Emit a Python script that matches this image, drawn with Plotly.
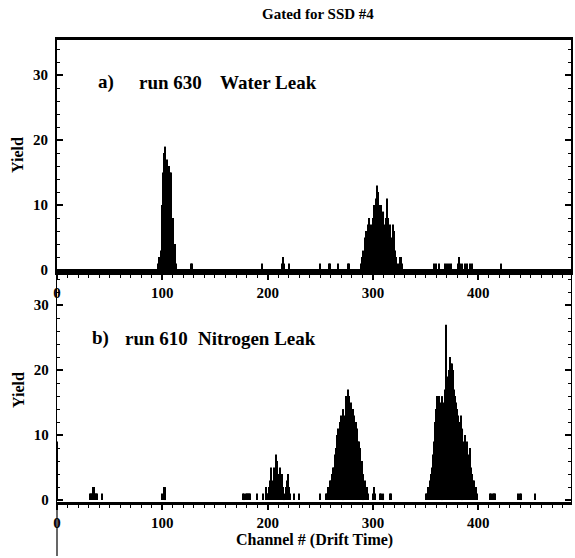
import plotly.graph_objects as go

# ---------------- data ----------------
# Panel a) run 630 Water Leak
a_peak1_first = 96
a_peak1_yield = [1, 2, 2, 3, 10, 15, 18, 19, 17, 16, 16, 15, 15, 8, 8, 4, 4, 1]
a_peak2_first = 289
a_peak2_yield = [1, 2, 3, 5, 6, 5, 7, 8, 6, 7, 5, 8, 10, 9, 11, 13, 12, 10, 9, 10,
                 8, 9, 7, 8, 11, 8, 6, 7, 5, 4, 7, 6, 3, 2, 1, 0, 1, 2, 2, 1]
a_sparse_channels = [127, 128, 195, 214, 215, 216, 220, 250, 258, 259,
                     267, 276, 277, 358, 360, 363, 368, 370, 372, 374,
                     381, 382, 383, 385, 387, 389, 392, 394, 422]
a_sparse_yield = [1, 1, 1, 1, 2, 1, 1, 1, 1, 1,
                  1, 1, 1, 1, 1, 1, 1, 1, 1, 1,
                  1, 2, 1, 1, 1, 1, 1, 1, 1]

# Panel b) run 610 Nitrogen Leak
b_peak1_first = 200
b_peak1_yield = [1, 2, 3, 5, 2, 3, 5, 4, 7, 6, 3, 4, 5, 3, 4, 2, 1, 2, 3, 4, 2, 1]
b_peak2_first = 255
b_peak2_yield = [1, 1, 2, 2, 3, 3, 4, 5, 5, 7, 8, 10, 11, 9, 12, 13, 11, 14, 13, 16,
                 15, 17, 16, 14, 15, 12, 14, 13, 10, 12, 11, 9, 9, 8, 6, 6, 4, 3, 2, 2, 1]
b_peak3_first = 350
b_peak3_yield = [1, 1, 2, 2, 3, 4, 5, 7, 9, 12, 14, 16, 15, 16, 15, 14, 16, 15, 17, 27,
                 19, 18, 20, 22, 21, 21, 20, 17, 16, 15, 14, 13, 12, 10, 13, 11, 9, 10, 8, 9,
                 7, 6, 8, 5, 4, 3, 3, 2, 2, 1]
b_sparse_channels = [0, 31, 32, 33, 34, 35, 36, 37, 38, 43,
                     100, 102, 103, 177, 178, 179, 180, 181, 182, 183,
                     190, 196, 198, 199, 225, 230, 250, 300, 301, 302,
                     307, 308, 310, 316, 317, 411, 412, 414, 415, 416,
                     438, 440, 441, 454]
b_sparse_yield = [9, 1, 1, 1, 2, 2, 1, 1, 1, 1,
                  1, 2, 2, 1, 1, 1, 1, 1, 1, 1,
                  1, 1, 2, 1, 1, 1, 1, 1, 2, 1,
                  1, 1, 1, 1, 1, 1, 1, 1, 1, 1,
                  1, 1, 1, 1]

top_tick_vals = [0, 100, 200, 300, 400]
bottom_tick_vals = [0, 100, 200, 300, 400]
y_tick_vals = [0, 10, 20, 30]


def assemble(peaks, sparse_ch, sparse_y):
    ch, y = list(sparse_ch), list(sparse_y)
    for first, vals in peaks:
        ch += [first + i for i in range(len(vals))]
        y += vals
    return ch, y


a_x, a_y = assemble([(a_peak1_first, a_peak1_yield), (a_peak2_first, a_peak2_yield)],
                    a_sparse_channels, a_sparse_yield)
b_x, b_y = assemble([(b_peak1_first, b_peak1_yield), (b_peak2_first, b_peak2_yield),
                     (b_peak3_first, b_peak3_yield)],
                    b_sparse_channels, b_sparse_yield)

# ---------------- figure ----------------
FONT = "Liberation Serif"
tickfont = dict(family=FONT, size=15, color="black", weight="bold")

fig = go.Figure()
fig.add_trace(go.Bar(x=a_x, y=a_y, xaxis="x", yaxis="y", width=1,
                     marker=dict(color="black", line=dict(width=0))))
fig.add_trace(go.Bar(x=b_x, y=b_y, xaxis="x2", yaxis="y2", width=1,
                     marker=dict(color="black", line=dict(width=0))))

split = (502 - 272) / 462.0
XR = [0, 488]


def xaxis_main(anchor, tickvals, lw):
    return dict(domain=[0, 1], anchor=anchor, range=XR, tickmode="array",
                tickvals=tickvals, ticks="outside", ticklen=5, tickwidth=1.5,
                tickcolor="black", minor=dict(ticks="outside", dtick=10, tick0=0,
                                              ticklen=3, tickwidth=1, tickcolor="black"),
                showline=True, linewidth=lw, linecolor="black", mirror=True,
                showgrid=False, zeroline=False, tickfont=tickfont, fixedrange=True,
                automargin=False)


def xaxis_inner(over, anchor, tickvals):
    return dict(overlaying=over, anchor=anchor, side="bottom", range=XR, tickmode="array",
                tickvals=tickvals, ticks="inside", ticklen=4, tickwidth=1.5,
                tickcolor="black", minor=dict(ticks="inside", dtick=10, tick0=0,
                                              ticklen=3, tickwidth=1, tickcolor="black"),
                showline=False, mirror="ticks", showticklabels=False,
                showgrid=False, zeroline=False)


def yaxis_main(domain, anchor, rng, lw):
    return dict(domain=domain, anchor=anchor, range=rng, tickmode="array",
                tickvals=y_tick_vals, ticks="inside", ticklen=6, tickwidth=1.5,
                tickcolor="black", minor=dict(ticks="inside", dtick=2, tick0=0,
                                              ticklen=3, tickwidth=1, tickcolor="black"),
                showline=True, linewidth=lw, linecolor="black", mirror="ticks",
                showgrid=False, zeroline=False, tickfont=tickfont,
                ticklabelstandoff=4, fixedrange=True, automargin=False)


fig.update_layout(
    width=575, height=558,
    margin=dict(l=57, r=4, t=40, b=56, autoexpand=False),
    paper_bgcolor="white", plot_bgcolor="white",
    showlegend=False, barmode="overlay",
    xaxis=xaxis_main("y", top_tick_vals, 2.5),
    yaxis=yaxis_main([split, 1], "x", [-0.3, 35.4], 2),
    xaxis2=xaxis_main("y2", bottom_tick_vals, 2.5),
    yaxis2=yaxis_main([0, split], "x2", [-0.3, 35.1], 1.3),
    xaxis3=xaxis_inner("x", "y", top_tick_vals),
    xaxis4=xaxis_inner("x2", "y2", bottom_tick_vals),
)


def px_x(px):
    return (px - 57) / 514.0


def px_y(py):
    return (502 - py) / 462.0


ann = []
ann.append(dict(text="Gated for SSD #4", x=px_x(318), y=px_y(14), xanchor="center",
                yanchor="middle", font=dict(family=FONT, size=15, weight="bold")))
for txt, xp, yp in [("a)", 96, 82), ("run 630", 137, 82), ("Water Leak", 218, 82),
                    ("b)", 90, 338), ("run 610", 123, 338), ("Nitrogen Leak", 196, 338)]:
    ann.append(dict(text=txt, x=px_x(xp), y=px_y(yp), xanchor="left", yanchor="middle",
                    font=dict(family=FONT, size=19, weight="bold")))
for yp in [155, 390]:
    ann.append(dict(text="Yield", x=px_x(18), y=px_y(yp), xanchor="center",
                    yanchor="middle", textangle=-90,
                    font=dict(family=FONT, size=16, weight="bold")))
ann.append(dict(text="Channel # (Drift Time)", x=px_x(314), y=px_y(540), xanchor="center",
                yanchor="middle", font=dict(family=FONT, size=16, weight="bold")))
for a in ann:
    a.update(xref="paper", yref="paper", showarrow=False)
    a["font"]["color"] = "black"
fig.update_layout(annotations=ann)

# scan artefact: thin vertical line continuing below the lower panel
fig.add_shape(type="line", xref="paper", yref="paper", x0=0, x1=0,
              y0=px_y(503), y1=px_y(556), line=dict(color="black", width=1.2))

fig.write_html("out.html", config={"displayModeBar": False},
               post_script="document.body.style.margin='0';document.body.style.overflow='hidden';")
